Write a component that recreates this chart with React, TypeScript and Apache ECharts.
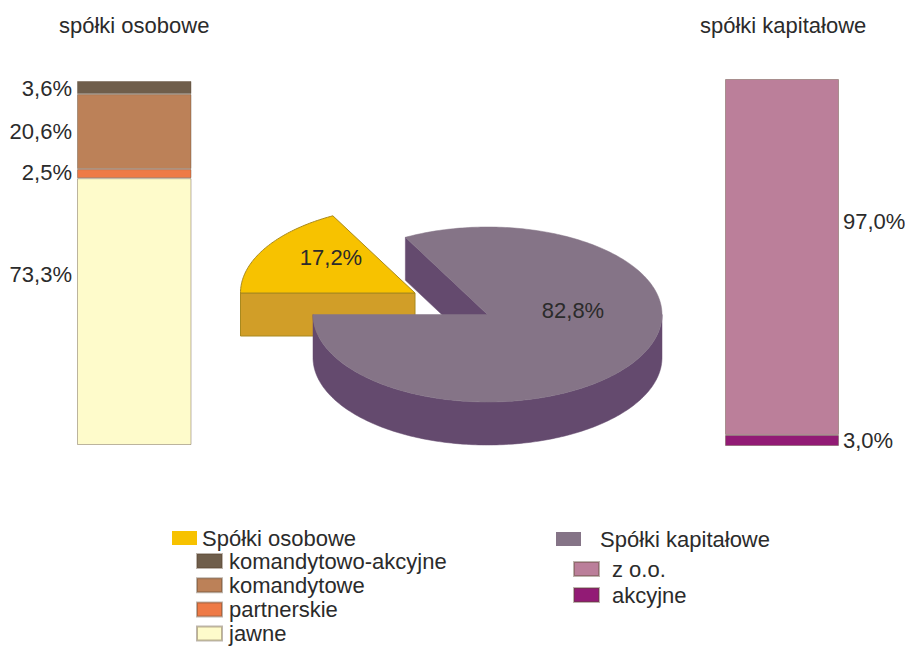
import React, { useEffect, useRef } from "react";
import * as echarts from "echarts";

const FONT = "Liberation Sans";
const TEXT = "#2b2b2b";

const osoboweNames = ["jawne", "partnerskie", "komandytowe", "komandytowo-akcyjne"];
const osoboweValues = [73.3, 2.5, 20.6, 3.6];
const osoboweColors = ["#FEFBCB", "#EE7A46", "#BC8158", "#6F5E4B"];
const osoboweLabelShift = [-37, -1, 0, 1];

const kapitaloweNames = ["akcyjne", "z o.o."];
const kapitaloweValues = [3.0, 97.0];
const kapitaloweColors = ["#921B75", "#BB7F9A"];
const kapitaloweLabelShift = [0, -35];

const pieNames = ["Spółki osobowe", "Spółki kapitałowe"];
const pieValues = [17.2, 82.8];
const pieTop = ["#F7C200", "#857487"];
const pieSide = ["#D19E28", "#644A6E"];

const fmt = (v: number) => v.toFixed(1).replace(".", ",") + "%";

const RX = 174.5;
const RY = 87.5;
const DEPTH = 43;
const TOTAL = pieValues[0] + pieValues[1];

function pt(cx: number, cy: number, deg: number, dy = 0): number[] {
  const r = (deg * Math.PI) / 180;
  return [cx + RX * Math.cos(r), cy + RY * Math.sin(r) + dy];
}

function arc(cx: number, cy: number, from: number, to: number, dy = 0): number[][] {
  const n = Math.max(2, Math.ceil(Math.abs(to - from)));
  const out: number[][] = [];
  for (let i = 0; i <= n; i++) out.push(pt(cx, cy, from + ((to - from) * i) / n, dy));
  return out;
}

const poly = (points: number[][], fill: string, stroke?: string) => ({
  type: "polygon",
  shape: { points },
  style: { fill, stroke: stroke || fill, lineWidth: stroke ? 1 : 0.5 },
});

const label = (text: string, x: number, y: number) => ({
  type: "text",
  style: {
    text,
    x,
    y,
    fill: TEXT,
    fontFamily: FONT,
    fontSize: 22,
    textAlign: "center",
    textVerticalAlign: "middle",
  },
});

function renderOsobowe(_p: any, api: any) {
  const cx = 415;
  const cy = 293;
  const v = api.value(0);
  const end = 180 + (v / TOTAL) * 360;
  const line = "#A8891E";
  return {
    type: "group",
    children: [
      poly(
        [[cx, cy], pt(cx, cy, 180), pt(cx, cy, 180, DEPTH), [cx, cy + DEPTH]],
        pieSide[0],
        line
      ),
      poly([[cx, cy], ...arc(cx, cy, 180, end)], pieTop[0], line),
      label(fmt(v), 331, 257),
    ],
  };
}

function renderKapitalowe(_p: any, api: any) {
  const cx = 487.5;
  const cy = 314.5;
  const v = api.value(0);
  const start = 180 + (1 - v / TOTAL) * 360;
  const s = pt(cx, cy, start);
  return {
    type: "group",
    children: [
      poly([[cx, cy], s, [s[0], s[1] + DEPTH], [cx, cy + DEPTH]], pieSide[1]),
      poly([...arc(cx, cy, 360, 540), ...arc(cx, cy, 540, 360, DEPTH)], pieSide[1]),
      poly([[cx, cy], ...arc(cx, cy, start, 540)], pieTop[1]),
      label(fmt(v), 573, 310),
    ],
  };
}

const barSeries = (
  names: string[],
  values: number[],
  colors: string[],
  shifts: number[],
  gridIndex: number,
  side: string,
  stack: string
) =>
  names.map((name, i) => ({
    type: "bar",
    name,
    stack,
    xAxisIndex: gridIndex,
    yAxisIndex: gridIndex,
    barWidth: "100%",
    data: [values[i]],
    itemStyle: { color: colors[i], borderColor: "rgba(90,70,50,0.4)", borderWidth: 1 },
    label: {
      show: true,
      position: side,
      distance: side === "left" ? 5 : 4,
      offset: [0, shifts[i]],
      formatter: () => fmt(values[i]),
      color: TEXT,
      fontFamily: FONT,
      fontSize: 22,
    },
  }));

const legendBase = {
  orient: "vertical",
  icon: "rect",
  selectedMode: false,
  itemWidth: 25,
  itemHeight: 14,
  height: 125,
  textStyle: { color: TEXT, fontFamily: FONT, fontSize: 22 },
};

const titleStyle = { color: TEXT, fontFamily: FONT, fontSize: 22, fontWeight: "normal" };

export default function App() {
  const ref = useRef<HTMLDivElement>(null);
  useEffect(() => {
    const chart = echarts.init(ref.current!, undefined, { renderer: "svg" });
    chart.setOption({
      animation: false,
      backgroundColor: "#fff",
      title: [
        { text: "spółki osobowe", left: 54, top: 9, textStyle: titleStyle },
        { text: "spółki kapitałowe", left: 695, top: 9, textStyle: titleStyle },
      ],
      legend: [
        { ...legendBase, left: 167, top: 522, data: [pieNames[0]] },
        {
          ...legendBase,
          left: 191,
          top: 545,
          itemGap: 2.2,
          data: ["komandytowo-akcyjne", "komandytowe", "partnerskie", "jawne"],
          textStyle: { ...legendBase.textStyle, padding: [0, 0, 0, 2] },
        },
        {
          ...legendBase,
          left: 551,
          top: 523,
          data: [pieNames[1]],
          textStyle: { ...legendBase.textStyle, padding: [0, 0, 0, 14] },
        },
        {
          ...legendBase,
          left: 568,
          top: 553,
          itemGap: 4,
          data: ["z o.o.", "akcyjne"],
          textStyle: { ...legendBase.textStyle, padding: [0, 0, 0, 8] },
        },
      ],
      grid: [
        { left: 77, top: 81, width: 114.5, height: 364 },
        { left: 725, top: 79, width: 114, height: 367 },
      ],
      xAxis: [0, 1].map((g) => ({ type: "category", gridIndex: g, data: [""], show: false })),
      yAxis: [0, 1].map((g) => ({ type: "value", gridIndex: g, min: 0, max: 100, show: false })),
      series: [
        ...barSeries(osoboweNames, osoboweValues, osoboweColors, osoboweLabelShift, 0, "left", "os"),
        ...barSeries(kapitaloweNames, kapitaloweValues, kapitaloweColors, kapitaloweLabelShift, 1, "right", "kap"),
        {
          type: "custom",
          name: pieNames[0],
          coordinateSystem: "none",
          silent: true,
          itemStyle: { color: pieTop[0] },
          data: [pieValues[0]],
          renderItem: renderOsobowe,
        },
        {
          type: "custom",
          name: pieNames[1],
          coordinateSystem: "none",
          silent: true,
          itemStyle: { color: pieTop[1] },
          data: [pieValues[1]],
          renderItem: renderKapitalowe,
        },
      ],
    });
    return () => chart.dispose();
  }, []);
  return (
    <div
      ref={ref}
      style={{ position: "absolute", left: 0, top: 0, width: 905, height: 646 }}
    />
  );
}
